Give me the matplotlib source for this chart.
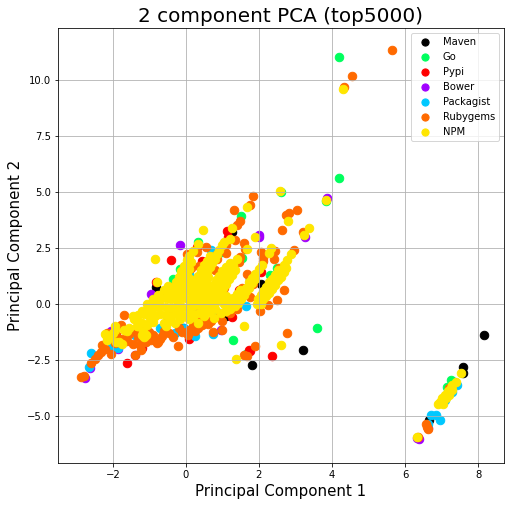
import matplotlib
matplotlib.use("Agg")
import matplotlib.pyplot as plt

targets = ["Maven", "Go", "Pypi", "Bower", "Packagist", "Rubygems", "NPM"]
colors = ["#000000", "#00ff5e", "#ff0000", "#a100ff", "#00c8ff", "#ff6a00", "#ffe600"]

maven_x = [8.15, 7.6, 7.58, 3.2, 1.8, 1.1, 1.0, 1.2, 1.26, -0.83, -0.07, 7.35, 6.65, 1.75, 0.15, 2.05, -0.5, 1.5]
maven_y = [-1.4, -2.82, -3.1, -2.05, -2.72, -0.55, -0.58, 3.15, 3.2, 0.74, -1.07, -3.5, -5.2, 1.1, 1.0, 0.9, -0.6, 0.3]
go_x = [4.2, 4.2, 3.6, 2.6, 3.85, 1.5, 1.3, 0.32, -0.15, 1.55, 1.0, 7.25, 7.15, 2.5, 2.3, -0.35, 0.45, 1.65]
go_y = [11.0, 5.6, -1.1, 5.0, 4.6, 3.9, -1.62, 2.75, 1.55, 2.05, 2.3, -3.4, -3.7, 1.6, 1.3, 1.1, 1.5, -2.25]
pypi_x = [-0.4, 2.35, 1.72, -1.6, 0.1, 1.75, 1.15, 1.12, 0.3, -0.82, 0.05, -1.2, 2.05, 1.45, 0.45, -1.9, 1.25]
pypi_y = [1.95, -2.35, -2.05, -2.65, -1.55, -2.1, 3.0, 3.25, 2.55, 0.95, 1.15, -1.95, 1.4, 0.6, 1.9, -1.4, -0.6]
bower_x = [-0.15, 2.0, 3.87, 6.37, 6.32, -2.75, -2.62, -1.38, -1.0, -0.8, 0.95, -2.05, -1.85, -0.55, 6.62, 3.25, -0.95, 2.0, 0.3]
bower_y = [2.6, 3.0, 4.7, -6.05, -5.98, -3.3, -2.85, -2.3, -1.4, -1.7, -1.15, -1.2, -2.0, 0.55, -5.55, 3.0, 0.45, 3.05, -0.4]
pack_x = [-2.6, -2.65, -2.05, 6.7, 6.85, 6.95, 6.62, 1.65, 0.85, -0.3, 0.75, -0.05, 0.1, 1.25, -1.85, -1.4, 7.1, 7.28, 7.42, 0.7, -0.7, 1.1, -1.15, 0.25]
pack_y = [-2.2, -2.8, -1.95, -4.95, -4.95, -5.2, -5.35, -0.1, -0.35, -1.3, -1.35, -1.1, 1.35, 1.7, -1.95, -1.4, -4.3, -3.95, -3.6, 2.4, -1.1, 1.0, -1.7, -1.45]
ruby_x = [5.65, 4.55, 4.32, 2.78, 1.83, 1.31, 1.77, 3.03, 2.82, 2.63, 1.49, 1.4, 1.9, 1.67, 1.6,
          -1.7, -2.88, -2.78, -2.6, -2.5, -2.33, -2.2, -2.05, -1.39, -1.22, -0.21, -0.78, -1.45, -1.1,
          -1.78, 0.98, 0.73, 0.05, 0.34, 2.96, 2.06, 2.12, 1.49, 1.63, 2.02, 1.67, 1.77, 0.02,
          -1.0, -0.9, -0.65, -0.45, -0.2, 0.2, 0.45, 0.6, 1.0, 1.2, 1.4, -1.3, -1.6, -1.9, -2.3,
          -0.05, 0.15, 0.55, 0.8, 1.05, 1.3, 1.55, 2.4, 2.55, 2.75, 6.35, 6.58, 6.6, 6.62, 7.2, 3.2,
          -1.2, -0.95, -0.7, -0.45, 0.35, 1.45, 2.25, 2.1, 2.45,
          -1.35, -1.15, -0.9, -0.75, -0.6, -0.35, -0.1, 0.1, 0.25, 0.5, 0.7, 0.9, 1.15, -2.15, -1.95, -1.75, -1.55, -1.25, -2.4,
          0.05, 0.3, 0.55, 0.85, 1.1, 1.35, 1.6, 1.85, 2.2, 2.5, 2.7, 1.1, 0.85, 0.6, 0.35, 0.1]
ruby_y = [11.3, 10.15, 9.65, -1.32, 4.8, 4.2, 4.4, 4.18, 4.03, 3.27, 3.7, 3.5, -1.86, -2.33, -2.3,
          -0.48, -3.25, -3.2, -2.66, -2.45, -2.15, -2.0, -2.26, -2.29, -2.07, -1.86, -1.74, -1.79, -1.7,
          -0.95, -1.19, -1.26, -1.37, -1.07, 2.38, 2.3, 1.9, 2.1, 2.45, -0.33, 1.31, 0.31, 2.23,
          -1.25, -1.4, -1.45, -1.3, -1.1, -1.0, -0.95, -0.9, -0.75, -0.4, -0.25, -1.5, -1.65, -1.45, -1.85,
          1.3, 1.6, 1.75, 1.5, 0.7, 1.45, 0.7, 2.0, 1.6, 3.95, -5.95, -5.35, -5.5, -5.6, -3.75, 3.2,
          -1.15, -1.6, -1.55, -0.55, -0.65, 1.85, -0.05, 2.05, 2.35,
          -1.25, -1.45, -1.55, -1.7, -1.2, -1.5, -1.25, -1.15, -1.2, -0.8, -0.75, -0.6, -0.35, -1.3, -1.75, -1.55, -1.35, -1.85, -2.3,
          2.05, 2.3, 2.55, 2.2, 2.6, 2.85, 2.7, 0.9, 0.5, 0.15, 0.6, 2.25, 2.0, 1.9, 1.7, 1.55]
npm_x = [4.3, 2.58, 3.85, 0.48, -0.85, 3.38, 3.24, 2.8, 1.67, 1.88, -0.79, 0.32, 1.26, 1.67, 2.32, 2.27, 1.58, 2.6, 1.38,
         7.54, 7.4, 7.3, 7.25, 7.18, 7.1, 7.02, 6.96, 6.9, 6.34, 7.3, 7.2, 7.12, 7.05,
         1.95, 2.02, 2.1, 2.18, 2.25, 2.32, 2.4, 2.47, 2.55, 2.63, 2.7, 2.78, 2.87,
         1.26, 1.35, 1.42, 1.5, 1.58, 1.65, 1.74, 1.82, 1.9, 2.0, 2.09,
         0.57, 0.66, 0.74, 0.82, 0.9, 0.98, 1.06, 1.14, 1.22, 1.3, 1.4,
         0.2, 0.28, 0.35, 0.44, 0.5, 0.58, 0.65, 0.72, 0.8, 0.86, 0.92, 0.98, 1.05, 1.2,
         -0.26, -0.2, -0.12, -0.05, 0.02, 0.08, 0.14, 0.2, 0.05, -0.45, -0.3,
         -2.17, -2.15, -1.82, -1.62, -1.94, -1.18, -0.99, -1.41, -0.53, -0.3, 0.32, 0.77, 1.21, -1.3, -1.2, -1.1,
         -1.45, -1.3, -1.15, -1.0, -0.85, -0.7, -0.55, -0.4, -0.25, -0.1, 0.05, 0.2, 0.35, 0.5, 0.65, 0.8,
         -1.0, -0.85, -0.7, -0.55, -0.4, -0.25, -0.1, 0.05, 0.2, 0.35, 0.5, 0.65, 0.8,
         -0.85, -0.7, -0.55, -0.4, -0.25, -0.1, 0.05, 0.2, 0.35, 0.5, 0.65, 0.8, 0.95, 1.1,
         -0.55, -0.4, -0.25, -0.1, 0.05, 0.2, 0.35, 0.5,
         -0.95, -0.8, -0.7]
npm_y = [9.6, 5.05, 4.65, 3.29, 2.0, 3.4, 3.07, 3.7, 4.3, 3.0, 0.98, 2.65, 3.38, 2.45, 2.5, 2.25, -0.97, -1.83, -2.45,
         -3.1, -3.5, -3.62, -3.75, -3.9, -4.05, -4.2, -4.36, -4.45, -5.92, -3.85, -4.05, -4.2, -4.45,
         -0.03, 0.1, 0.3, 0.45, 0.62, 0.79, 0.95, 1.15, 1.32, 1.5, 1.72, 1.95, 2.2,
         -0.1, 0.05, 0.2, 0.42, 0.58, 0.72, 0.95, 1.15, 1.32, 1.55, 1.75,
         0.0, 0.2, 0.4, 0.58, 0.78, 0.98, 1.18, 1.38, 1.55, 1.75, 1.98,
         0.34, 0.55, 0.75, 0.98, 1.2, 1.42, 1.62, 1.82, 2.0, 2.2, 2.4, 2.6, 2.75, 2.87,
         0.5, 0.68, 0.9, 1.1, 1.3, 1.55, 1.85, 2.35, 0.7, 0.3, 0.7,
         -1.6, -1.5, -1.7, -1.22, -1.15, -1.22, -0.7, -0.7, -1.0, -0.85, -0.85, -0.63, -0.25, -1.0, -0.85, -1.4,
         -0.55, -0.5, -0.45, -0.5, -0.55, -0.45, -0.5, -0.55, -0.45, -0.5, -0.55, -0.45, -0.4, -0.3, -0.35, -0.25,
         -0.2, -0.15, -0.1, -0.15, -0.2, -0.1, -0.15, -0.2, -0.1, -0.05, -0.1, 0.0, 0.05,
         0.15, 0.2, 0.25, 0.2, 0.15, 0.25, 0.2, 0.15, 0.3, 0.25, 0.35, 0.3, 0.3, 0.35,
         0.55, 0.6, 0.55, 0.65, 0.6, 0.7, 0.65, 0.75,
         -0.35, -0.05, 0.3]
npm_band_x = [2.05, 2.12, 2.2, 2.28, 2.36, 2.45, 2.52, 2.6, 2.68, 2.75, 1.98, 2.05, 2.12, 2.2, 2.28, 2.36, 2.44, 2.52,
              1.34, 1.42, 1.5, 1.58, 1.66, 1.74, 1.82, 1.9, 1.2, 1.3, 1.4, 1.48,
              0.68, 0.78, 0.86, 0.94, 1.02, 1.1, 1.18, 1.26, 1.34, 0.5, 0.58, 0.66, 0.74, 0.82, 0.9, 1.0, 1.1, 1.2,
              0.1, 0.18, 0.26, 0.34, 0.42, 0.5, 0.58, 0.66, 0.3, 0.4, 0.48, 0.56, 0.62,
              -0.4, -0.35, -0.28, -0.2, -0.12, -0.05, 0.02, 0.08, -0.55, -0.48, -0.1, 0.0, 0.05, 0.12,
              -1.35, -1.25, -1.05, -0.9, -0.6, -0.45, -0.15, 0.1, 0.2, 0.5, 0.95, 1.1,
              -2.2, -2.08, -1.9, -1.75, -1.7, -1.55, -1.95, -1.2, -1.15, -2.0,
              -1.2, -1.05, -0.9, -0.75, -0.6, -0.2, 0.0, 0.15, 0.3, 0.45, 0.6, 0.75, 0.9, 1.05, 1.2]
npm_band_y = [0.0, 0.2, 0.35, 0.5, 0.68, 0.85, 1.05, 1.2, 1.4, 1.6, 0.2, 0.4, 0.55, 0.75, 0.95, 1.12, 1.3, 1.5,
              -0.1, 0.05, 0.22, 0.4, 0.55, 0.72, 0.92, 1.1, 0.05, 0.25, 0.42, 0.62,
              -0.05, 0.15, 0.32, 0.5, 0.7, 0.9, 1.1, 1.3, 1.5, 0.25, 0.45, 0.65, 0.85, 1.05, 1.25, 1.45, 1.65, 1.8,
              0.6, 0.85, 1.05, 1.25, 1.5, 1.72, 1.92, 2.12, 0.3, 0.55, 0.75, 0.98, 1.2,
              0.5, 0.72, 0.95, 1.2, 1.45, 1.7, 1.95, 2.15, 0.55, 0.8, 0.45, 0.6, 0.9, 1.1,
              -1.0, -0.85, -0.95, -0.8, -0.85, -0.75, -0.7, -0.7, -0.6, -0.55, -0.4, -0.3,
              -1.35, -1.5, -1.7, -1.8, -1.15, -1.1, -1.0, -1.4, -1.5, -1.3,
              -0.3, 0.0, 0.2, 0.4, 0.6, 0.85, 0.95, 1.05, 0.55, 0.9, 0.65, 0.45, 0.2, 0.0, -0.15]

series_x = [maven_x, go_x, pypi_x, bower_x, pack_x, ruby_x, npm_x + npm_band_x]
series_y = [maven_y, go_y, pypi_y, bower_y, pack_y, ruby_y, npm_y + npm_band_y]

fig = plt.figure(figsize=(514 / 72, 506 / 72), dpi=72, facecolor="white")
ax = fig.add_axes([58 / 514, 1 - 463 / 506, 446 / 514, 435 / 506])
for name, c, xs, ys in zip(targets, colors, series_x, series_y):
    ax.scatter(xs, ys, c=c, s=72, label=name)

ax.set_xlim(-3.5, 8.71)
ax.set_ylim(-7.1, 12.3)
ax.set_xlabel("Principal Component 1", fontsize=15)
ax.set_ylabel("Principal Component 2", fontsize=15)
ax.set_title("2 component PCA (top5000)", fontsize=20)
leg = ax.legend(loc="upper right", markerscale=0.85)
ax.grid(True)
fig.savefig("out.png", dpi=72)
